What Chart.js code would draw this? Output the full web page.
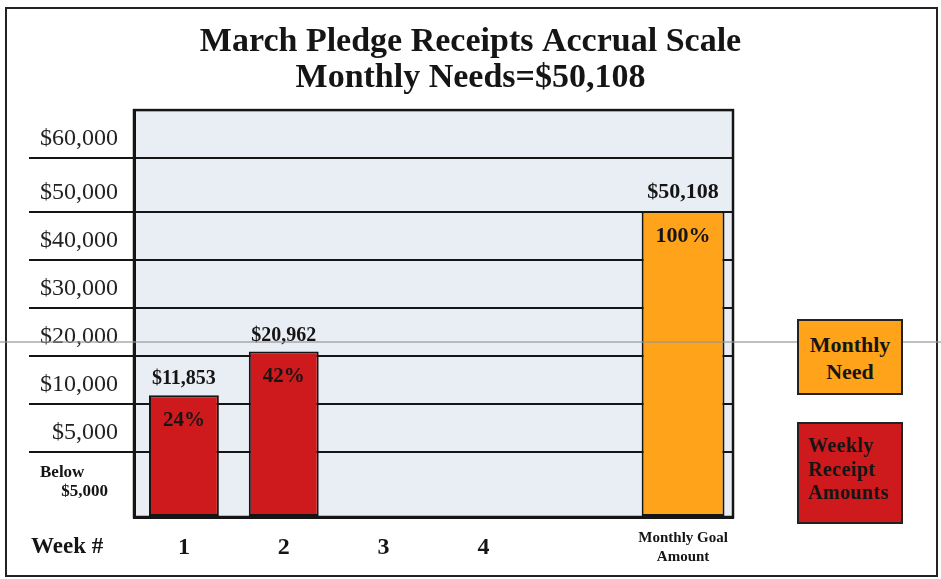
<!DOCTYPE html>
<html>
<head>
<meta charset="utf-8">
<script src="https://cdn.jsdelivr.net/npm/chart.js@4.4.1/dist/chart.umd.min.js"></script>
<style>
    body { margin: 0; background: #fff; }
    #quadro { position: relative; width: 941px; height: 579px; font-family: 'Liberation Serif', 'Times New Roman', serif; color: #151515; }
    #quadro canvas { position: absolute; left: 0; top: 0; }
    .moldura { position: absolute; left: 5px; top: 7px; width: 929px; height: 566px; border: 2px solid #222; }
    .risco { position: absolute; left: 0; top: 341px; width: 941px; height: 2px; background: rgba(150, 150, 150, 0.6); z-index: 5; }
    .rotulo { position: absolute; font-weight: bold; white-space: nowrap; }
    .semana { left: 31px; top: 533px; font-size: 23px; }
    .abaixo { left: 40px; top: 462px; font-size: 17px; line-height: 19px; }
    .legenda { position: absolute; left: 797px; width: 102px; border: 2px solid #222; font-weight: bold; box-sizing: content-box; z-index: 6; }
    .necessidade { top: 319px; height: 72px; background: #fea31a; text-align: center; font-size: 22px; line-height: 27px; }
    .necessidade span { display: block; padding-top: 10px; }
    .semanal { top: 422px; height: 98px; background: #cf1a1d; font-size: 20px; line-height: 23.5px; letter-spacing: 0.4px; }
    .semanal span { display: block; padding: 10px 0 0 9px; }
</style>
</head>
<body>
<div id="quadro">
    <div class="moldura"></div>
    <canvas id="graficoPromessas" width="941" height="579"></canvas>
    <div class="risco"></div>
    <div class="rotulo semana">Week #</div>
    <div class="rotulo abaixo">Below<br>&nbsp;&nbsp;&nbsp;&nbsp;&nbsp;$5,000</div>
    <div class="legenda necessidade"><span>Monthly<br>Need</span></div>
    <div class="legenda semanal"><span>Weekly<br>Receipt<br>Amounts</span></div>
</div>
<script>
const categorias = ['1', '2', '3', '4', '', ['Monthly Goal', 'Amount']];
const recebimentosSemanais = [11853, 20962, null, null, null, null];
const necessidadeMensal = [null, null, null, null, null, 50108];
const metaMensal = 50108;
const valoresEixoY = [0, 5000, 10000, 20000, 30000, 40000, 50000, 60000, 70000];
const rotulosEixoY = ['', '$5,000', '$10,000', '$20,000', '$30,000', '$40,000', '$50,000', '$60,000', ''];

// the printed scale is not linear: each band gets its own height
const pesosFaixas = [1.35, 1, 1, 1, 1, 1, 1.12, 1];

class EscalaFaixas extends Chart.LinearScale {
    buildTicks() {
        return valoresEixoY.map(v => ({ value: v }));
    }
    getPixelForValue(value) {
        if (value === null || value === undefined) return NaN;
        const total = pesosFaixas.reduce((a, b) => a + b, 0);
        let acum = 0;
        for (let i = 0; i < pesosFaixas.length; i++) {
            const a = valoresEixoY[i], b = valoresEixoY[i + 1];
            if (value <= b || i === pesosFaixas.length - 1) {
                const frac = Math.max(0, Math.min(1, (value - a) / (b - a)));
                return this.getPixelForDecimal((acum + frac * pesosFaixas[i]) / total);
            }
            acum += pesosFaixas[i];
        }
        return NaN;
    }
    getValueForPixel(pixel) {
        const total = pesosFaixas.reduce((a, b) => a + b, 0);
        const pos = this.getDecimalForPixel(pixel) * total;
        let acum = 0;
        for (let i = 0; i < pesosFaixas.length; i++) {
            if (pos <= acum + pesosFaixas[i]) {
                return valoresEixoY[i] + (pos - acum) / pesosFaixas[i] * (valoresEixoY[i + 1] - valoresEixoY[i]);
            }
            acum += pesosFaixas[i];
        }
        return valoresEixoY[valoresEixoY.length - 1];
    }
}
EscalaFaixas.id = 'faixas';
EscalaFaixas.defaults = Chart.LinearScale.defaults;
Chart.register(EscalaFaixas);

const fundoPlot = {
    id: 'fundoPlot',
    beforeDraw(chart) {
        const { ctx, chartArea: a } = chart;
        ctx.save();
        ctx.fillStyle = '#e9edf4';
        ctx.fillRect(a.left, a.top, a.right - a.left, a.bottom - a.top);
        ctx.restore();
    },
    afterDraw(chart) {
        const { ctx, chartArea: a } = chart;
        ctx.save();
        ctx.strokeStyle = '#151515';
        ctx.lineWidth = 2.5;
        ctx.strokeRect(a.left, a.top, a.right - a.left, a.bottom - a.top);
        ctx.restore();
    }
};

const rotulosBarras = {
    id: 'rotulosBarras',
    afterDatasetsDraw(chart) {
        const ctx = chart.ctx;
        chart.data.datasets.forEach((ds, di) => {
            chart.getDatasetMeta(di).data.forEach((barra, i) => {
                const valor = ds.data[i];
                if (valor === null) return;
                const grande = di === 1;
                ctx.save();
                ctx.fillStyle = '#151515';
                ctx.textAlign = 'center';
                ctx.textBaseline = 'middle';
                ctx.font = 'bold ' + (grande ? 22 : 20) + 'px "Liberation Serif"';
                ctx.fillText('$' + valor.toLocaleString('en-US'), barra.x, barra.y - (grande ? 19 : 16));
                ctx.font = 'bold ' + (grande ? 22 : 21) + 'px "Liberation Serif"';
                ctx.fillText(Math.round(valor / metaMensal * 100) + '%', barra.x, barra.y + 25);
                ctx.restore();
            });
        });
    }
};

window.onload = function () {
    const ctxPromessas = document.getElementById('graficoPromessas').getContext('2d');
    const graficoPromessas = new Chart(ctxPromessas, {
        type: 'bar',
        data: {
            labels: categorias,
            datasets: [{
                label: 'Weekly Receipt Amounts',
                data: recebimentosSemanais,
                backgroundColor: '#cf1a1d',
                borderColor: '#151515',
                borderWidth: 2,
                borderSkipped: false,
                barPercentage: 0.70,
                categoryPercentage: 1
            },
            {
                label: 'Monthly Need',
                data: necessidadeMensal,
                backgroundColor: '#fea31a',
                borderColor: '#151515',
                borderWidth: 2,
                borderSkipped: false,
                barPercentage: 0.83,
                categoryPercentage: 1
            }]
        },
        options: {
            responsive: false,
            animation: false,
            grouped: false,
            layout: { padding: 0 },
            scales: {
                x: {
                    grid: { display: false, drawTicks: false },
                    border: { color: '#151515', width: 3 },
                    afterFit: function (escala) { escala.height = 62; },
                    ticks: {
                        padding: 11,
                        autoSkip: false,
                        maxRotation: 0,
                        color: '#151515',
                        font: function (c) {
                            if (c.index === 5) {
                                return { family: 'Liberation Serif', size: 15, weight: 'bold', lineHeight: 1.3 };
                            }
                            return { family: 'Liberation Serif', size: 24, weight: 'bold', lineHeight: 1.65 };
                        }
                    }
                },
                y: {
                    type: 'faixas',
                    min: 0,
                    max: 70000,
                    afterFit: function (escala) { escala.width = 134; },
                    border: { color: '#151515', width: 3 },
                    grid: {
                        color: '#151515',
                        lineWidth: 2,
                        drawTicks: true,
                        tickLength: 105,
                        tickColor: function (c) {
                            if (c.tick && (c.tick.value === 0 || c.tick.value === 70000)) {
                                return 'rgba(0,0,0,0)';
                            }
                            return '#151515';
                        }
                    },
                    ticks: {
                        autoSkip: false,
                        padding: -89,
                        labelOffset: -19,
                        color: '#222',
                        font: { family: 'Liberation Serif', size: 24 },
                        callback: function (valor, indice) {
                            return rotulosEixoY[indice];
                        }
                    }
                },
                lateral: {
                    type: 'linear',
                    position: 'right',
                    grid: { display: false },
                    border: { display: false },
                    ticks: { display: false },
                    afterFit: function (escala) { escala.width = 208; }
                }
            },
            plugins: {
                legend: { display: false },
                tooltip: { enabled: true },
                title: {
                    display: true,
                    text: ['March Pledge Receipts Accrual Scale', 'Monthly Needs=$50,108'],
                    color: '#151515',
                    font: { family: 'Liberation Serif', size: 34, weight: 'bold', lineHeight: 1.06 },
                    padding: { top: 24, bottom: 14 }
                }
            }
        },
        plugins: [fundoPlot, rotulosBarras]
    });
};
</script>
</body>
</html>
